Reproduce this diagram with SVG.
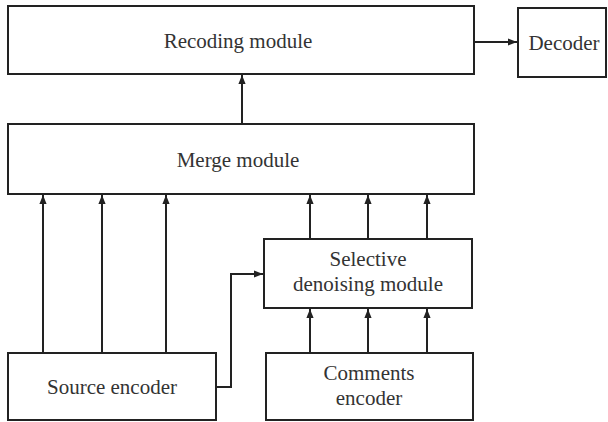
<svg xmlns="http://www.w3.org/2000/svg" width="608" height="422" viewBox="0 0 608 422">
  <style>
    .box { fill: #ffffff; stroke: #222222; stroke-width: 2; }
    .wire { fill: none; stroke: #222222; stroke-width: 2; marker-end: url(#arrow); }
    .label { font-family: "Liberation Serif", "Times New Roman", serif; font-size: 21px; fill: #333333; text-anchor: middle; }
  </style>
  <defs>
    <marker id="arrow" viewBox="0 0 10 8" refX="10" refY="4" markerWidth="4.5" markerHeight="3.6" orient="auto" markerUnits="strokeWidth">
      <path d="M0,0 L10,4 L0,8 Z" fill="#222222"/>
    </marker>
  </defs>
  <rect width="608" height="422" fill="#ffffff"/>

  <g id="recoding">
    <rect class="box" x="8" y="6" width="466" height="68"/>
    <text class="label" x="238" y="48">Recoding module</text>
  </g>
  <g id="decoder">
    <rect class="box" x="518" y="8" width="88" height="69"/>
    <text class="label" x="564" y="50">Decoder</text>
  </g>
  <g id="merge">
    <rect class="box" x="8" y="124" width="466" height="70"/>
    <text class="label" x="238" y="167">Merge module</text>
  </g>
  <g id="selective">
    <rect class="box" x="264" y="239" width="208" height="69"/>
    <text class="label" x="368" y="266">Selective</text>
    <text class="label" x="368" y="291">denoising module</text>
  </g>
  <g id="source">
    <rect class="box" x="8" y="353" width="208" height="67"/>
    <text class="label" x="112" y="394">Source encoder</text>
  </g>
  <g id="comments">
    <rect class="box" x="266" y="353" width="207" height="67"/>
    <text class="label" x="369" y="380">Comments</text>
    <text class="label" x="369" y="405">encoder</text>
  </g>

  <g id="connectors">
    <line class="wire" x1="474" y1="42" x2="517" y2="42"/>
    <line class="wire" x1="242" y1="124" x2="242" y2="75"/>
    <line class="wire" x1="43" y1="353" x2="43" y2="195"/>
    <line class="wire" x1="102" y1="353" x2="102" y2="195"/>
    <line class="wire" x1="166" y1="353" x2="166" y2="195"/>
    <line class="wire" x1="310" y1="239" x2="310" y2="195"/>
    <line class="wire" x1="368" y1="239" x2="368" y2="195"/>
    <line class="wire" x1="427" y1="239" x2="427" y2="195"/>
    <line class="wire" x1="310" y1="353" x2="310" y2="309"/>
    <line class="wire" x1="368" y1="353" x2="368" y2="309"/>
    <line class="wire" x1="427" y1="353" x2="427" y2="309"/>
    <polyline class="wire" points="216,387 231,387 231,274 263,274"/>
  </g>
</svg>
